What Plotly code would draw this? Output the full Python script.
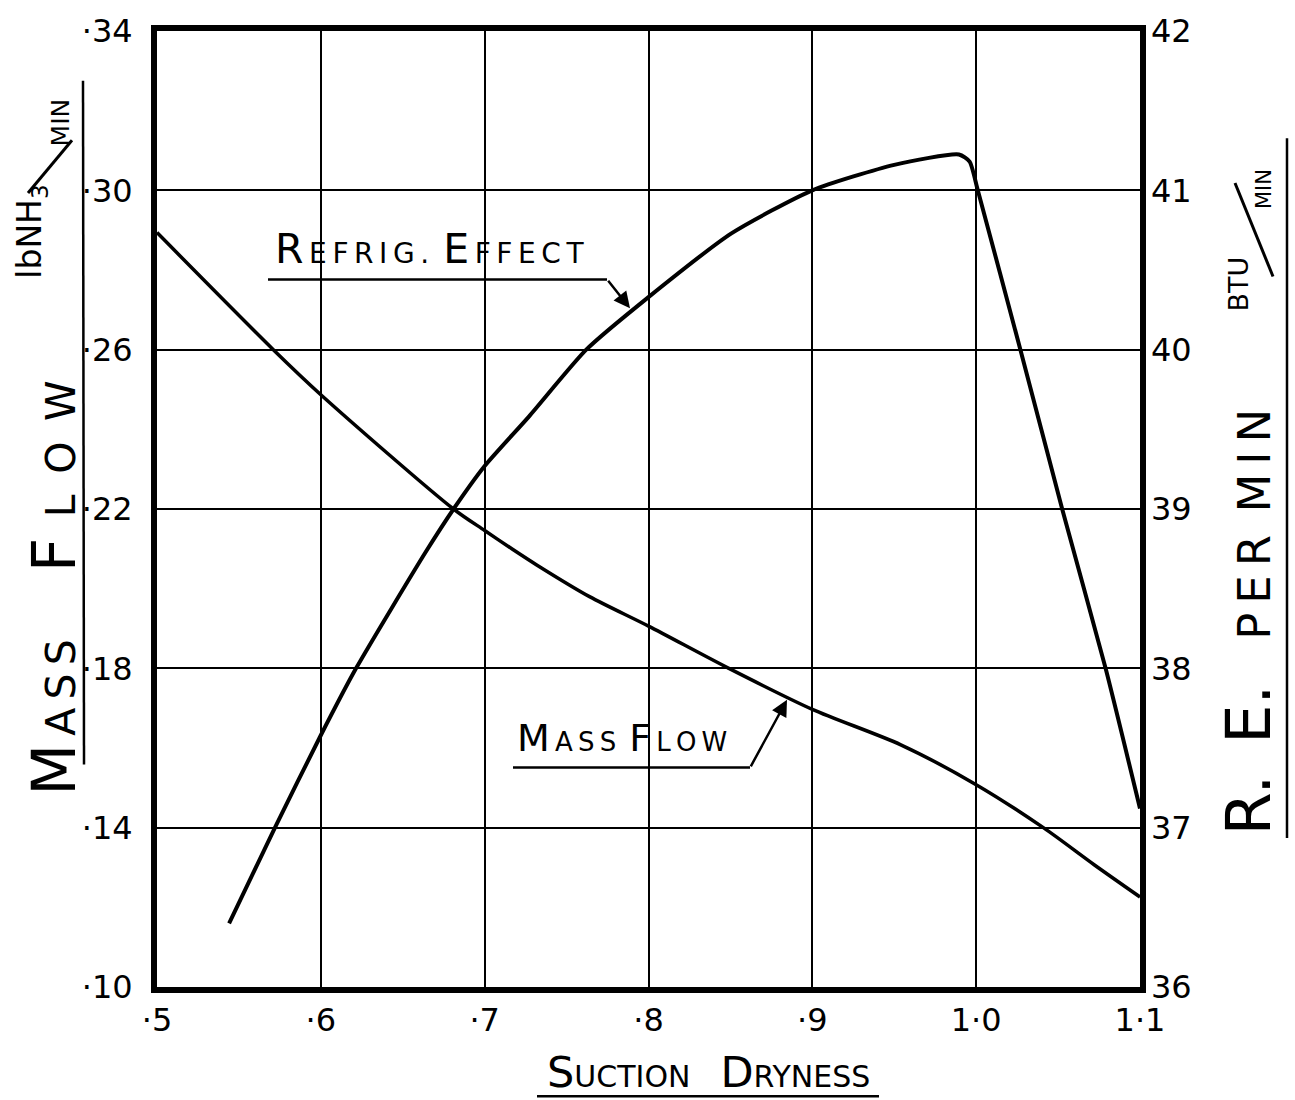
import plotly.graph_objects as go

# ---------------- data ----------------
dryness_mass = [0.5, 0.571, 0.6, 0.681, 0.7, 0.717, 0.732, 0.764, 0.8, 0.849, 0.9, 0.954, 1.0, 1.041, 1.072, 1.1]
mass_flow = [0.2894, 0.26, 0.2487, 0.22, 0.2146, 0.2099, 0.2059, 0.198, 0.1906, 0.18, 0.1697, 0.1608, 0.1508, 0.14, 0.1307, 0.1226]

dryness_re = [0.544, 0.572, 0.6, 0.6215, 0.664, 0.681, 0.7, 0.727, 0.762, 0.8, 0.8506, 0.9, 0.95, 0.9895, 0.996, 1.001, 1.027, 1.0525, 1.079, 1.1]
refrig_effect = [36.40, 37.0, 37.58, 38.0, 38.73, 39.0, 39.27, 39.58, 40.0, 40.33, 40.73, 41.0, 41.16, 41.225, 41.18, 41.0, 40.0, 39.0, 38.0, 37.12]

x_ticks = [0.5, 0.6, 0.7, 0.8, 0.9, 1.0, 1.1]
x_ticktext = ["·5", "·6", "·7", "·8", "·9", "1·0", "1·1"]
y_ticks = [0.10, 0.14, 0.18, 0.22, 0.26, 0.30, 0.34]
y_ticktext = ["·10", "·14", "·18", "·22", "·26", "·30", "·34"]
y2_ticks = [36, 37, 38, 39, 40, 41, 42]
y2_ticktext = ["36", "37", "38", "39", "40", "41", "42"]

# ---------------- layout geometry ----------------
W, H = 1295, 1100
L, R, T, B = 157, 1140, 25, 987
FONT = "DejaVu Sans"
THIN = "\u2009"
EN = "\u2002"


def px(xp):
    return (xp - L) / (R - L)


def py(yp):
    return (B - yp) / (B - T)


def sz(text, size):
    return f"<span style='font-size:{size}px'>{text}</span>"


def smallcaps(word, big, small, sep):
    return sz(word[0], big) + sz(sep + sep.join(word[1:]), small)


fig = go.Figure()
fig.add_trace(go.Scatter(x=dryness_mass, y=mass_flow, mode="lines",
                         line=dict(color="black", width=3.5, shape="spline", smoothing=0.8),
                         yaxis="y", showlegend=False))
fig.add_trace(go.Scatter(x=dryness_re, y=refrig_effect, mode="lines",
                         line=dict(color="black", width=4, shape="spline", smoothing=0.6),
                         yaxis="y2", showlegend=False))

annotations = []
shapes = []


def hline(x0, y0, x1, y1, w=2.5):
    shapes.append(dict(type="line", xref="paper", yref="paper", x0=px(x0), y0=py(y0), x1=px(x1), y1=py(y1),
                       line=dict(color="black", width=w)))


# REFRIG. EFFECT label
txt = smallcaps("REFRIG.", 41, 28, THIN) + sz(EN, 28) + smallcaps("EFFECT", 41, 28, THIN)
annotations.append(dict(xref="paper", yref="paper", x=px(273), y=py(271), xanchor="left", yanchor="bottom",
                        text=txt, showarrow=False, font=dict(family=FONT, size=28, color="black")))
hline(268, 275, 607, 275)
annotations.append(dict(xref="paper", yref="paper", x=px(630), y=py(304), ax=-23, ay=-29, text="",
                        showarrow=True, arrowhead=2, arrowsize=1.3, arrowwidth=2.5, arrowcolor="black"))

# MASS FLOW label
txt = smallcaps("MASS", 38, 26, THIN) + sz(EN, 26) + smallcaps("FLOW", 38, 26, THIN)
annotations.append(dict(xref="paper", yref="paper", x=px(515), y=py(761), xanchor="left", yanchor="bottom",
                        text=txt, showarrow=False, font=dict(family=FONT, size=26, color="black")))
hline(513, 766, 750, 766)
annotations.append(dict(xref="paper", yref="paper", x=px(787), y=py(698), ax=-37, ay=68, text="",
                        showarrow=True, arrowhead=2, arrowsize=1.3, arrowwidth=2.5, arrowcolor="black"))

# Left axis title
annotations.append(dict(xref="paper", yref="paper", x=px(54), y=py(716), xanchor="center", yanchor="middle",
                        text=smallcaps("MASS", 60, 41, THIN), textangle=-90, showarrow=False,
                        font=dict(family=FONT, size=41, color="black")))
annotations.append(dict(xref="paper", yref="paper", x=px(54), y=py(473), xanchor="center", yanchor="middle",
                        text=smallcaps("FLOW", 60, 41, EN), textangle=-90, showarrow=False,
                        font=dict(family=FONT, size=41, color="black")))
annotations.append(dict(xref="paper", yref="paper", x=px(32), y=py(227), xanchor="center", yanchor="middle",
                        text="lbNH<sub>3</sub>", textangle=-90, showarrow=False,
                        font=dict(family=FONT, size=33, color="black")))
annotations.append(dict(xref="paper", yref="paper", x=px(60), y=py(117), xanchor="center", yanchor="middle",
                        text="MIN", textangle=-90, showarrow=False,
                        font=dict(family=FONT, size=25, color="black")))
hline(28, 188, 72, 135, 3)
hline(83, 75, 84, 763)

# Right axis title
right_text = sz("R." + EN + "E.", 62) + sz(EN + EN + THIN.join("PER") + EN + THIN.join("MIN"), 45)
annotations.append(dict(xref="paper", yref="paper", x=px(1248), y=py(620), xanchor="center", yanchor="middle",
                        text=right_text, textangle=-90, showarrow=False,
                        font=dict(family=FONT, size=45, color="black")))
annotations.append(dict(xref="paper", yref="paper", x=px(1238), y=py(280), xanchor="center", yanchor="middle",
                        text="BTU", textangle=-90, showarrow=False,
                        font=dict(family=FONT, size=27, color="black")))
annotations.append(dict(xref="paper", yref="paper", x=px(1264), y=py(184), xanchor="center", yanchor="middle",
                        text="MIN", textangle=-90, showarrow=False,
                        font=dict(family=FONT, size=21, color="black")))
hline(1235, 178, 1273, 272, 3)
hline(1287, 133, 1287, 837)

# Bottom axis title
txt = smallcaps("SUCTION", 43, 30, "") + sz(EN + EN, 30) + smallcaps("DRYNESS", 43, 30, "")
annotations.append(dict(xref="paper", yref="paper", x=px(708), y=py(1100), xanchor="center", yanchor="bottom",
                        text=txt, showarrow=False, font=dict(family=FONT, size=30, color="black")))
hline(537, 1097, 879, 1097)

tickfont = dict(family=FONT, size=32, color="black")

fig.update_layout(
    width=W, height=H, autosize=False,
    margin=dict(l=L, r=W - R, t=T, b=H - B, pad=0),
    paper_bgcolor="white", plot_bgcolor="white",
    showlegend=False,
    annotations=annotations,
    shapes=shapes,
    xaxis=dict(range=[0.5, 1.1], tickvals=x_ticks, ticktext=x_ticktext, tickfont=tickfont,
               showgrid=True, gridcolor="black", gridwidth=2, zeroline=False,
               showline=True, linecolor="black", linewidth=6, mirror=True,
               ticks="", ticklabelstandoff=0),
    yaxis=dict(range=[0.10, 0.34], tickvals=y_ticks, ticktext=y_ticktext, tickfont=tickfont,
               showgrid=True, gridcolor="black", gridwidth=2, zeroline=False,
               showline=True, linecolor="black", linewidth=6, mirror=True,
               ticks="", ticklabelstandoff=12),
    yaxis2=dict(range=[36, 42], tickvals=y2_ticks, ticktext=y2_ticktext, tickfont=tickfont,
                overlaying="y", side="right", showgrid=False, zeroline=False, showline=False,
                ticks="", ticklabelstandoff=10),
)

fig.write_html("out.html")
